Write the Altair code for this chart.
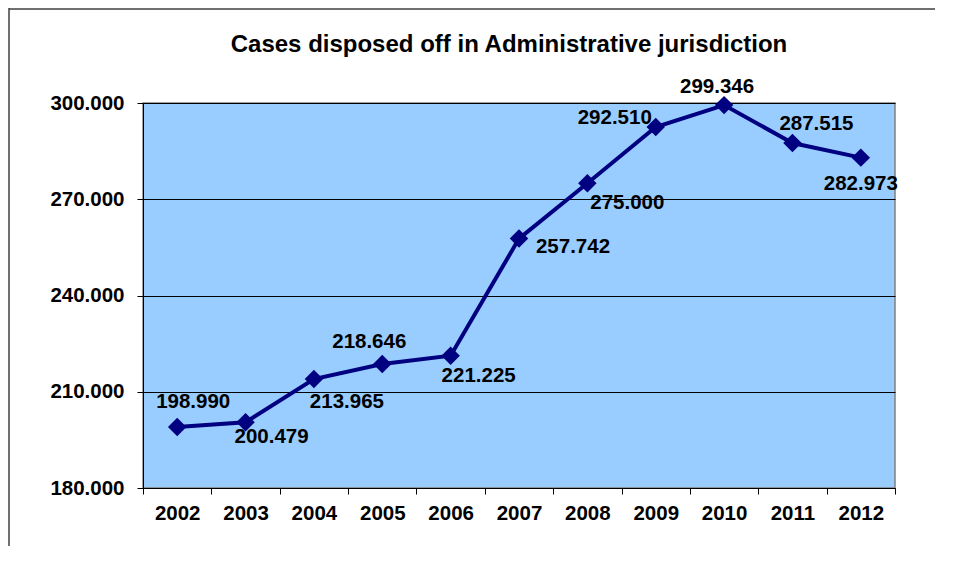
import altair as alt
import pandas as pd

years = ["2002", "2003", "2004", "2005", "2006", "2007", "2008", "2009", "2010", "2011", "2012"]
cases = [198.990, 200.479, 213.965, 218.646, 221.225, 257.742, 275.000, 292.510, 299.346, 287.515, 282.973]
y_ticks = [180, 210, 240, 270, 300]

# label placement (pixel offsets from each point), styling only
label_offsets = {
    "2002": (16, -25), "2003": (26, 15), "2004": (33, 23), "2005": (-13, -22),
    "2006": (28, 20), "2007": (54, 8), "2008": (40, 20), "2009": (-41, -9),
    "2010": (-7, -18), "2011": (24, -19), "2012": (0, 26),
}

df = pd.DataFrame({"year": years, "cases": cases})
FONT = "Liberation Sans"
NAVY = "#000080"

base = alt.Chart(df)

x_enc = alt.X("year:N", bandPosition=0.5,
              scale=alt.Scale(type="band", paddingInner=0, paddingOuter=0),
              axis=alt.Axis(title=None, labelAngle=0, tickBand="extent", grid=False,
                            domainColor="#000000", tickColor="#000000", tickSize=6,
                            labelFont=FONT, labelFontSize=20.5, labelFontWeight="bold",
                            labelColor="#000000", labelPadding=9))
y_enc = alt.Y("cases:Q",
              scale=alt.Scale(domain=[180, 300], nice=False, zero=False),
              axis=alt.Axis(title=None, values=y_ticks, format=".3f", grid=True,
                            gridColor="#000000", gridWidth=1, domainColor="#000000",
                            tickColor="#000000", tickSize=6, labelPadding=13,
                            labelFont=FONT, labelFontSize=20.5, labelFontWeight="bold",
                            labelColor="#000000"))

line = base.mark_line(color=NAVY, strokeWidth=4).encode(x=x_enc, y=y_enc)
points = base.mark_point(shape="diamond", filled=True, color=NAVY, size=340, opacity=1).encode(x=x_enc, y=y_enc)

text_layers = []
for yr, (dx, dy) in label_offsets.items():
    text_layers.append(
        base.transform_filter(alt.datum.year == yr)
        .mark_text(dx=dx, dy=dy, font=FONT, fontSize=20.5, fontWeight="bold",
                   color="#000000", align="center", baseline="middle")
        .encode(x=x_enc, y=y_enc, text=alt.Text("cases:Q", format=".3f"))
    )

frame_data = alt.Data(values=[{}])
frame_left = alt.Chart(frame_data).mark_rule(color="#404040", strokeWidth=1.5).encode(
    x=alt.value(-134), y=alt.value(-95), y2=alt.value(470))
frame_top = alt.Chart(frame_data).mark_rule(color="#404040", strokeWidth=1.5).encode(
    x=alt.value(-134), x2=alt.value(820), y=alt.value(-94))

chart = alt.layer(frame_left, frame_top, line, points, *text_layers).properties(
    width=752, height=385,
    title=alt.TitleParams("Cases disposed off in Administrative jurisdiction",
                          font=FONT, fontSize=24, fontWeight="bold", color="#000000",
                          anchor="middle", frame="group", dx=-10, offset=-50),
    padding={"left": 135, "top": 95, "right": 40, "bottom": 58},
    autosize=alt.AutoSizeParams(type="none"),
).configure_view(fill="#99CCFF", stroke="#808080", strokeWidth=1.5)

chart.save("out.html", embed_options={"renderer": "svg", "actions": False})
